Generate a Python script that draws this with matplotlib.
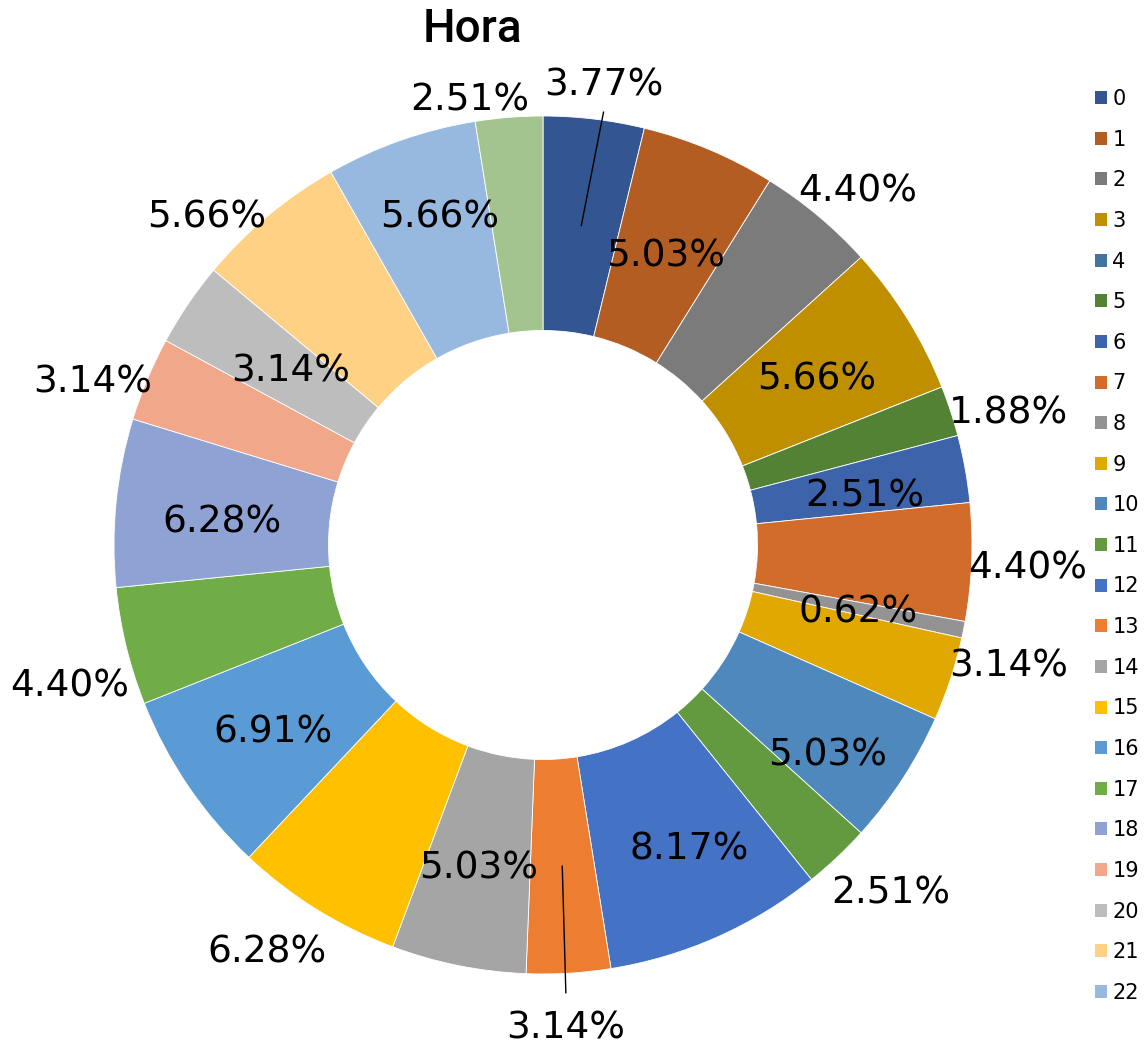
import numpy as np
import matplotlib.pyplot as plt
from matplotlib.patches import Patch

# hours and their share (%)
horas = [str(h) for h in range(24)]
porcentajes = [3.77, 5.03, 4.40, 5.66, 0.00, 1.88, 2.51, 4.40, 0.62, 3.14, 5.03, 2.51,
               8.17, 3.14, 5.03, 6.28, 6.91, 4.40, 6.28, 3.14, 3.14, 5.66, 5.66, 2.51]

colores = ['#335693', '#B45D23', '#7B7B7B', '#BF8F00', '#44739E', '#548235',
           '#3D64AA', '#D16C2A', '#939393', '#E0A800', '#4F88BC', '#639A40',
           '#4472C4', '#ED7D31', '#A5A5A5', '#FFC000', '#5B9BD5', '#70AD47',
           '#8FA2D4', '#F1A78A', '#BDBDBD', '#FFD184', '#97B9E0', '#A3C48F']

# label placement (Excel "best fit"): radius as fraction of outer radius,
# and a small turn (degrees) away from the slice's middle angle
radio_etiq = [1.09, 0.74, 1.11, 0.75, 0.0, 1.13, 0.76, 1.13, 0.75, 1.12, 0.82, 1.14,
              0.78, 1.12, 0.76, 1.14, 0.76, 1.15, 0.75, 1.12, 0.72, 1.10, 0.81, 1.06]
giro_etiq = [0.6, 0, 1.4, 0, 0, 2, 1, 0, 0, -4, 3, -2,
             -2, 0.7, 0, 2.5, 0, -2.5, -1, -2.5, 1, -5.5, 2, -4.7]
con_linea = [0, 13]

W, H = 1144, 1042
fig = plt.figure(figsize=(W / 100, H / 100), dpi=100)
ax = fig.add_axes([0, 0, 1, 1])

# ring centre / radius in pixels
cx, cy, R = 543, 545, 429

wedges, _ = ax.pie(porcentajes, colors=colores, startangle=90, counterclock=False,
                   radius=1.0, wedgeprops=dict(width=0.5, edgecolor='white', linewidth=0.6))
ax.set_aspect('auto')
ax.set_xlim(-cx / R, (W - cx) / R)
ax.set_ylim(-(H - cy) / R, cy / R)
ax.axis('off')

total = sum(porcentajes)
acum = np.cumsum([0] + porcentajes[:-1])
bajada = 4 / R  # text bbox centre sits below the ink centre
for i, p in enumerate(porcentajes):
    if p == 0:
        continue
    mid_deg = (acum[i] + p / 2) / total * 360
    ang = np.deg2rad(mid_deg + giro_etiq[i])
    r = radio_etiq[i]
    x, y = r * np.sin(ang), r * np.cos(ang)
    ax.text(x, y - bajada, f'{p:.2f}%', ha='center', va='center', fontsize=27, color='black')
    if i in con_linea:
        mid = np.deg2rad(mid_deg)
        y_fin = y - 0.072 if y > 0 else y + 0.075
        ax.plot([0.75 * np.sin(mid), x], [0.75 * np.cos(mid), y_fin], color='black', lw=1)

fig.text(472 / W, 1 - 29 / H, 'Hora', ha='center', va='center', fontsize=33,
         family=['Roboto', 'DejaVu Sans'], fontweight='medium')

# the original legend only has room for hours 0-22
n_leyenda = 23
handles = [Patch(facecolor=c, edgecolor='none') for c in colores[:n_leyenda]]
fig.legend(handles, horas[:n_leyenda], loc='upper left', bbox_to_anchor=(1095 / W, 1 - 89 / H),
           frameon=False, fontsize=15, handlelength=0.58, handleheight=0.58,
           handletextpad=0.25, labelspacing=0.99, borderpad=0, borderaxespad=0)

fig.savefig('out.png', dpi=100)
